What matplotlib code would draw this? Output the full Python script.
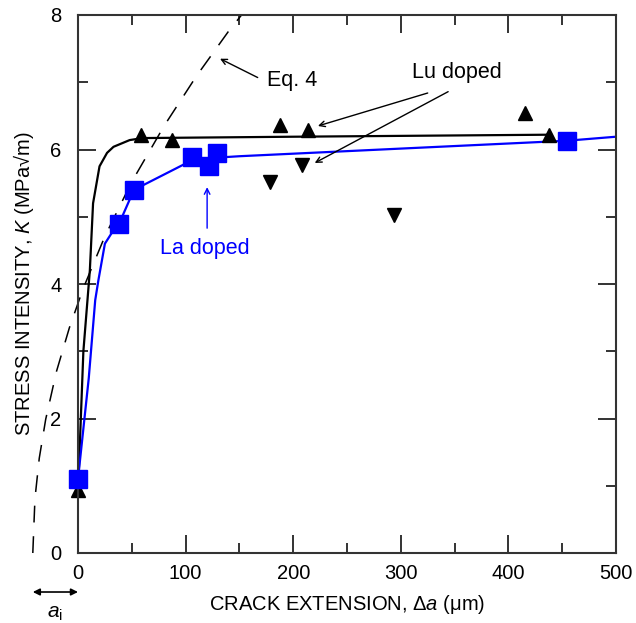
import matplotlib.pyplot as plt

plt.rcParams['font.family'] = ['Liberation Sans', 'DejaVu Sans']
plt.rcParams['mathtext.fontset'] = 'custom'
plt.rcParams['mathtext.rm'] = 'Liberation Sans'
plt.rcParams['mathtext.it'] = 'Liberation Sans:italic'

# Eq. 4 curve (dashed)
eq4_x = [-42, -40, -36, -30, -20, -8, 5, 25, 50, 80, 110, 140, 152]
eq4_k = [0.0, 0.81, 1.41, 1.99, 2.70, 3.35, 3.94, 4.71, 5.52, 6.35, 7.09, 7.76, 8.0]

# Lu doped: fitted curve and data
lu_fit_x = [0, 5, 11, 14, 20, 27, 33, 48, 60, 200, 438]
lu_fit_k = [0.9, 3.0, 4.2, 5.2, 5.75, 5.95, 6.04, 6.14, 6.17, 6.19, 6.22]
lu_up_x = [0, 59, 87, 188, 214, 415, 438]
lu_up_k = [0.93, 6.22, 6.14, 6.36, 6.29, 6.54, 6.22]
lu_dn_x = [178, 208, 294]
lu_dn_k = [5.52, 5.77, 5.03]

# La doped: fitted curve and data
la_fit_x = [0, 10, 16, 19, 25, 31, 38, 52, 106, 130, 150, 454, 500]
la_fit_k = [1.1, 2.6, 3.76, 4.06, 4.6, 4.75, 4.89, 5.4, 5.84, 5.88, 5.9, 6.13, 6.19]
la_x = [0, 38, 52, 106, 122, 129, 454]
la_k = [1.1, 4.89, 5.4, 5.89, 5.76, 5.95, 6.13]

fig = plt.figure(figsize=(6.36, 6.23), dpi=100)
ax = fig.add_axes([78/636, 1 - 553/623, 538/636, 538/623])

ax.plot(eq4_x, eq4_k, color='k', lw=1.1, ls=(0, (11, 9)), clip_on=False)
ax.plot(lu_fit_x, lu_fit_k, color='k', lw=1.6)
ax.plot(la_fit_x, la_fit_k, color='#0000ff', lw=1.6)
ax.plot(lu_up_x, lu_up_k, ls='', marker='^', ms=9.5, color='k', clip_on=False)
ax.plot(lu_dn_x, lu_dn_k, ls='', marker='v', ms=9.5, color='k')
ax.plot(la_x, la_k, ls='', marker='s', ms=13, color='#0000ff', clip_on=False, zorder=3)

arr = dict(arrowstyle='->', color='k', lw=1, shrinkA=0, shrinkB=0)
ax.annotate('', xy=(132, 7.35), xytext=(167, 7.07), arrowprops=arr)
ax.text(176, 7.03, 'Eq. 4', fontsize=15.5, va='center', ha='left')

ax.text(352, 7.15, 'Lu doped', fontsize=15.5, va='center', ha='center')
ax.annotate('', xy=(223, 6.35), xytext=(325, 6.84), arrowprops=arr)
ax.annotate('', xy=(220, 5.8), xytext=(344, 6.86), arrowprops=arr)

ax.text(118, 4.53, 'La doped', fontsize=15.5, va='center', ha='center', color='#0000ff')
ax.annotate('', xy=(120, 5.44), xytext=(120, 4.83),
            arrowprops=dict(arrowstyle='->', color='#0000ff', lw=1, shrinkA=0, shrinkB=0))

# initial crack length a_i
ax.annotate('', xy=(-42, -0.58), xytext=(0, -0.58), annotation_clip=False,
            arrowprops=dict(arrowstyle='<|-|>', color='k', lw=1.2, shrinkA=0, shrinkB=0,
                            mutation_scale=10))
ax.text(-21, -0.9, '$a$$_{\\rm i}$', fontsize=15, ha='center', va='center', clip_on=False)

ax.set_xlim(0, 500)
ax.set_ylim(0, 8)
ax.set_xticks([0, 100, 200, 300, 400, 500])
ax.set_xticks([50, 150, 250, 350, 450], minor=True)
ax.set_yticks([0, 2, 4, 6, 8])
ax.set_yticks([1, 3, 5, 7], minor=True)
ax.tick_params(which='both', direction='in', top=True, right=True, width=1.4,
               labelsize=14.5, color='#333333')
ax.tick_params(axis='x', which='major', length=13, pad=8)
ax.tick_params(axis='y', which='major', length=13, pad=12)
ax.tick_params(which='minor', length=7)
for s in ax.spines.values():
    s.set_linewidth(1.5)
    s.set_color('#333333')

ax.set_xlabel('CRACK EXTENSION, Δ$a$ (μm)', fontsize=14.5, labelpad=7)
ax.set_ylabel('STRESS INTENSITY, $K$ (MPa√m)', fontsize=14.5, labelpad=10)

fig.savefig('out.png', dpi=100)
